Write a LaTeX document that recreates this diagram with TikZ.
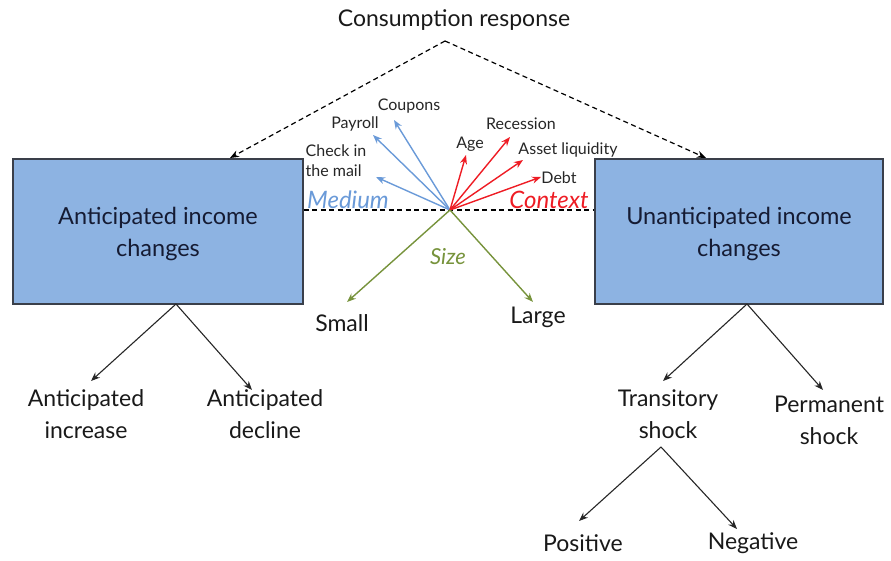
\documentclass[tikz,border=0pt]{standalone}
\usepackage{fontspec}
\setmainfont{Lato}
\usetikzlibrary{arrows.meta}
\definecolor{boxfill}{HTML}{8DB3E2}
\definecolor{boxline}{HTML}{3A3F4A}
\definecolor{navy}{HTML}{151B33}
\definecolor{medblue}{HTML}{6A9AD8}
\definecolor{ctxred}{HTML}{EE1C24}
\definecolor{sizegreen}{HTML}{77933C}
\tikzset{
  lab/.style={font=\fontsize{23}{32}\selectfont, align=center, text=black!90, inner sep=0pt},
  small/.style={font=\fontsize{16}{20}\selectfont, align=left, text=black!85, inner sep=0pt},
  bigbox/.style={draw=boxline, line width=1.4pt, fill=boxfill, inner sep=0pt},
  boxtext/.style={text=navy, align=center, font=\fontsize{23.5}{32}\selectfont, inner sep=0pt},
  tree/.style={-{Stealth[length=9pt,width=7pt]}, line width=1.1pt, black!85},
  dashline/.style={dashed, dash pattern=on 5pt off 3.5pt, line width=1.2pt},
  blu/.style={-{Stealth[length=9pt,width=7pt]}, line width=1.4pt, medblue},
  rd/.style={-{Stealth[length=9pt,width=7pt]}, line width=1.4pt, ctxred},
  grn/.style={-{Stealth[length=9pt,width=7pt]}, line width=1.4pt, sizegreen},
}
\begin{document}
\begin{tikzpicture}[x=1pt,y=-1pt]
\useasboundingbox (0,0) rectangle (891,561);
% title
\node[lab] (title) at (454,20) {Consumption response};
\coordinate (apex) at (445,41);
% boxes
\node[bigbox, minimum width=290pt, minimum height=145pt] (L) at (158,231.5) {};
\node[bigbox, minimum width=288pt, minimum height=145pt] (R) at (739,231.5) {};
\node[boxtext] (Ltext) at (158,234) {Anticipated income\\changes};
\node[boxtext] (Rtext) at (739,234) {Unanticipated income\\changes};
\coordinate (Ltip) at (230,158);
\coordinate (Rtip) at (706,158);
\draw[dashline, -{Stealth[length=9pt,width=7pt]}] (apex) -- (Ltip);
\draw[dashline, -{Stealth[length=9pt,width=7pt]}] (apex) -- (Rtip);
% middle dashed line
\coordinate (O) at (450,210);
\draw[dashline] (L.east |- O) -- (R.west |- O);
% medium arrows
\coordinate (b1) at (376,177);
\coordinate (b2) at (373,135);
\coordinate (b3) at (394,120);
\draw[blu] (O) -- (b1);
\draw[blu] (O) -- (b2);
\draw[blu] (O) -- (b3);
\node[small] (check) at (336,161) {Check in\\the mail};
\node[small] (payroll) at (355,124) {Payroll};
\node[small] (coupons) at (409,106) {Coupons};
% context arrows
\coordinate (r1) at (466,155);
\coordinate (r2) at (510,137);
\coordinate (r3) at (523,160);
\coordinate (r4) at (541,177);
\draw[rd] (O) -- (r1);
\draw[rd] (O) -- (r2);
\draw[rd] (O) -- (r3);
\draw[rd] (O) -- (r4);
\node[small] (age) at (470,144) {Age};
\node[small] (recession) at (521,124) {Recession};
\node[small] (asset) at (568,150) {Asset liquidity};
\node[small] (debt) at (559,178) {Debt};
\node[font=\fontsize{24}{28}\selectfont\itshape, text=medblue, inner sep=0pt] (medium) at (348,200) {Medium};
\node[font=\fontsize{24}{28}\selectfont\itshape, text=ctxred, inner sep=0pt] (context) at (549,200) {Context};
% size arrows
\coordinate (g1) at (347,302);
\coordinate (g2) at (533,302);
\draw[grn] (O) -- (g1);
\draw[grn] (O) -- (g2);
\node[font=\fontsize{22}{26}\selectfont\itshape, text=sizegreen, inner sep=0pt] (size) at (448,257) {Size};
\node[lab] (smallL) at (342,323) {Small};
\node[lab] (large) at (538,317) {Large};
% left tree
\node[lab] (inc) at (86,414) {Anticipated\\increase};
\node[lab] (dec) at (265,414) {Anticipated\\decline};
\coordinate (Lb) at (176,304);
\coordinate (inct) at (91,381);
\coordinate (dect) at (252,390);
\draw[tree] (Lb) -- (inct);
\draw[tree] (Lb) -- (dect);
% right tree
\node[lab] (trans) at (668,414) {Transitory\\shock};
\node[lab] (perm) at (829,420) {Permanent\\shock};
\coordinate (Rb) at (747,304);
\coordinate (transt) at (663,381);
\coordinate (permt) at (823,390);
\draw[tree] (Rb) -- (transt);
\draw[tree] (Rb) -- (permt);
\node[lab] (pos) at (583,543) {Positive};
\node[lab] (neg) at (753,543) {Negative};
\coordinate (Tb) at (661,447);
\coordinate (post) at (579,521);
\coordinate (negt) at (737,529);
\draw[tree] (Tb) -- (post);
\draw[tree] (Tb) -- (negt);
\end{tikzpicture}
\end{document}
